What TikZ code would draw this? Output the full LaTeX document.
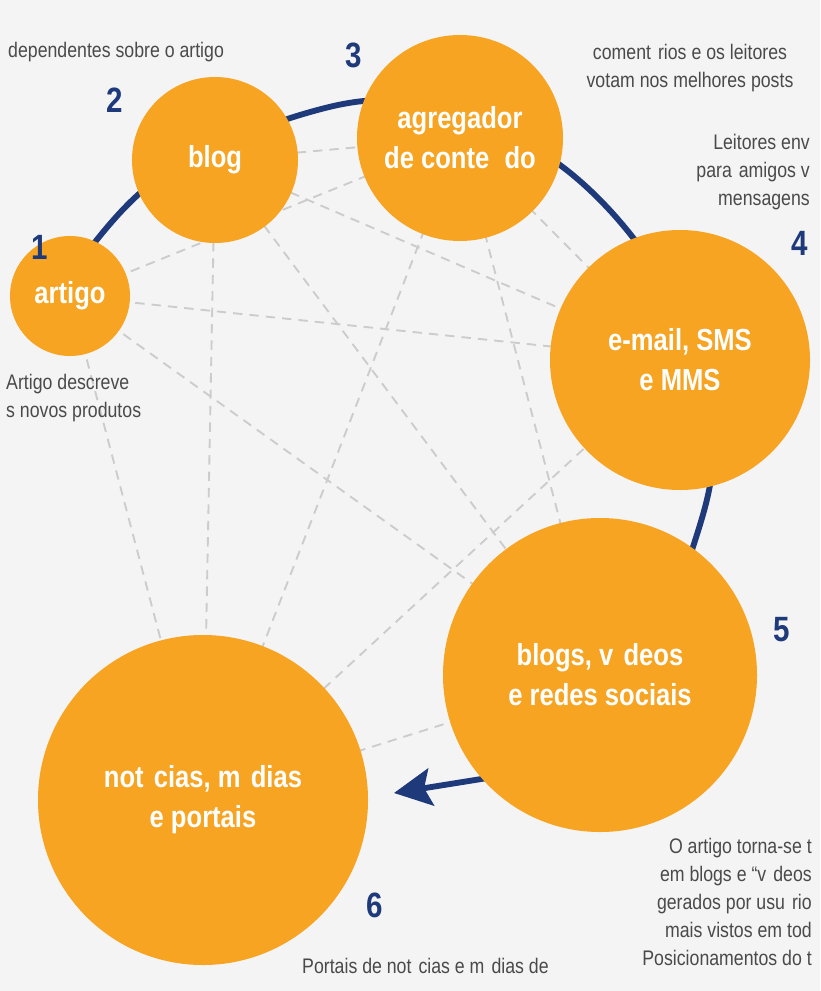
\documentclass[tikz,border=0pt]{standalone}
\usepackage{fontspec}
\setmainfont{Liberation Sans}[FakeStretch=0.84]
\usetikzlibrary{arrows.meta,positioning}
\definecolor{bgray}{HTML}{F4F4F4}
\definecolor{orng}{HTML}{F7A422}
\definecolor{dblue}{HTML}{1E3A7B}
\definecolor{txtgray}{HTML}{4A4A4A}
\tikzset{
  bubble/.style={circle, fill=orng, text=white, align=center, inner sep=0pt, font=\fontsize{26}{34}\selectfont\bfseries},
  num/.style={text=dblue, font=\fontsize{30}{32}\selectfont\bfseries, inner sep=0pt},
  note/.style={text=txtgray, font=\fontsize{18}{24}\selectfont, inner sep=0pt},
  link/.style={draw=gray!40, dashed, line width=1.6pt, dash pattern=on 8pt off 6pt}
}
\begin{document}
\begin{tikzpicture}[x=0.03cm,y=-0.03cm]
\fill[bgray] (0,0) rectangle (820,991);
\useasboundingbox (0,0) rectangle (820,991);
\clip (0,0) rectangle (820,991);
% positions of the bubbles
\coordinate (c1) at (70,296);
\coordinate (c2) at (215,160);
\coordinate (c3) at (460,138);
\coordinate (c4) at (680,360);
\coordinate (c5) at (600,675);
\coordinate (c6) at (203,800);
% dashed links
\foreach \a/\b in {c1/c3,c1/c4,c1/c5,c1/c6,c2/c3,c2/c4,c2/c5,c2/c6,c3/c5,c3/c6,c4/c6,c5/c6,c3/c4}
  \draw[link] (\a) -- (\b);
% blue path
\coordinate (e) at (394,793);
\draw[dblue, line width=5pt, -{Stealth[length=32pt,width=32pt,inset=6pt]}]
  plot[smooth, tension=0.6] coordinates {(60,290) (150,185) (300,115) (420,104) (560,165) (665,285) (712,430) (692,550) (625,700) (500,776)} -- (e);
% bubbles
\node[bubble, minimum size=3.6cm] (artigo) at (c1) {artigo};
\node[bubble, minimum size=4.98cm] (blog) at (c2) {blog};
\node[bubble, minimum size=6.18cm] (agreg) at (c3) {agregador\\de conte\,\,\,do};
\node[bubble, minimum size=7.8cm] (email) at (c4) {e-mail, SMS\\e MMS};
\node[bubble, minimum size=9.42cm] (redes) at (c5) {blogs, v\,\,deos\\e redes sociais};
\node[bubble, minimum size=9.9cm] (noticias) at (c6) {not\,\,cias, m\,\,dias\\e portais};
% numbers
\node[num] (n1) at (40,247) {1};
\node[num] (n2) at (115,100) {2};
\node[num] (n3) at (354,55) {3};
\node[num] (n4) at (800,243) {4};
\node[num] (n5) at (782,630) {5};
\node[num] (n6) at (375,905) {6};
% notes
\node[note, anchor=west] (t2) at (8,52) {dependentes sobre o artigo};
\node[note, align=center] (t3) at (690,68) {coment\,\,rios e os leitores\\votam nos melhores posts};
\node[note, align=right, anchor=east] (t4) at (810,172) {Leitores env\\para\,\,amigos v\\mensagens};
\node[note, align=left, anchor=west] (t1) at (6,398) {Artigo descreve\\s novos produtos};
\node[note, align=right, anchor=north east] (t5) at (812,838) {O artigo torna-se t\\em blogs e “v\,\,deos\\gerados por usu\,\,rio\\mais vistos em tod\\Posicionamentos do t};
\node[note, anchor=west] (t6) at (302,966) {Portais de not\,\,cias e m\,\,dias de};
\end{tikzpicture}
\end{document}
